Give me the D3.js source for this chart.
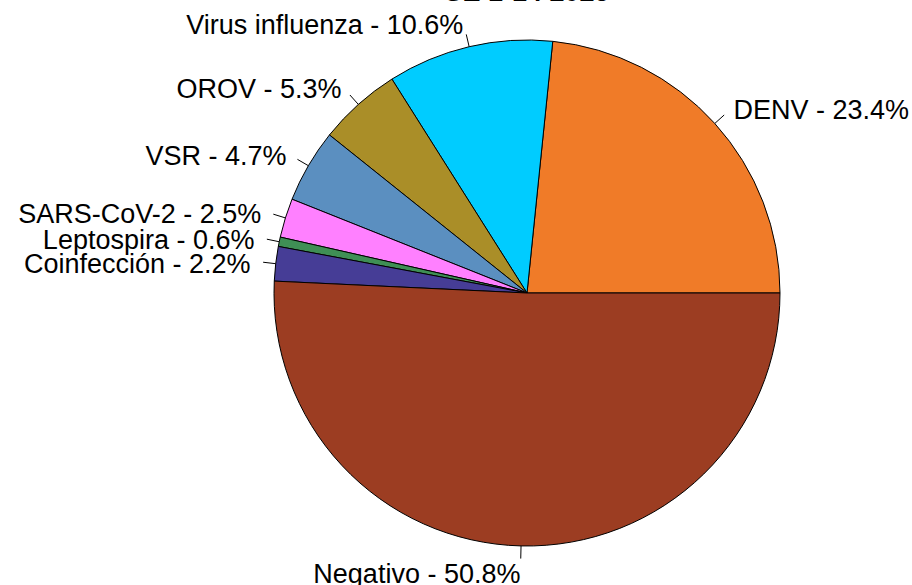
<!DOCTYPE html>
<html>
<head>
<meta charset="utf-8">
<script src="https://cdn.jsdelivr.net/npm/d3@7"></script>
<style>
  body { margin: 0; background: #fff; }
  svg { display: block; font-family: "Liberation Sans", Arial, sans-serif; }
</style>
</head>
<body>
<div id="chart"></div>
<script>
// datos
var categorias = ['DENV', 'Virus influenza', 'OROV', 'VSR', 'SARS-CoV-2', 'Leptospira', 'Coinfección', 'Negativo'];
var porcentajes = [23.4, 10.6, 5.3, 4.7, 2.5, 0.6, 2.2, 50.8];
var colores = ['#F07B28', '#00CCFF', '#AA8E28', '#5B8FC0', '#FF80FF', '#3F8F55', '#463D96', '#9C3D22'];
var titulo = 'SE 1-14 2025';

var WIDTH = 912, HEIGHT = 585;
var cx = 527, cy = 293, R = 253;

var svg = d3.select('#chart').append('svg')
    .attr('width', WIDTH)
    .attr('height', HEIGHT);

// titulo (cortado arriba como en la imagen)
svg.append('text')
    .attr('x', cx)
    .attr('y', 1)
    .attr('text-anchor', 'middle')
    .attr('font-size', 27)
    .attr('font-weight', 'bold')
    .text(titulo);

//pie antihorario desde las 3, como R
var pie = d3.pie()
    .sort(null)
    .value(d => d)
    .startAngle(Math.PI / 2)
    .endAngle(Math.PI / 2 - 2 * Math.PI);

var arc = d3.arc().innerRadius(0).outerRadius(R);
var arcs = pie(porcentajes);

var g = svg.append('g').attr('transform', 'translate(' + cx + ',' + cy + ')');

g.selectAll('path.slice')
    .data(arcs)
    .enter()
    .append('path')
    .attr('class', 'slice')
    .attr('d', arc)
    .attr('fill', (d, i) => colores[i])
    .attr('stroke', '#000')
    .attr('stroke-width', 1);

function pos(d, k) {
    var m = (d.startAngle + d.endAngle) / 2;
    return [k * R * Math.sin(m), -k * R * Math.cos(m)];
}

g.selectAll('line.tick')
    .data(arcs)
    .enter()
    .append('line')
    .attr('x1', d => pos(d, 1)[0])
    .attr('y1', d => pos(d, 1)[1])
    .attr('x2', d => pos(d, 1.05)[0])
    .attr('y2', d => pos(d, 1.05)[1])
    .attr('stroke', '#000')
    .attr('stroke-width', 1);

g.selectAll('text.lbl')
    .data(arcs)
    .enter()
    .append('text')
    .attr('class', 'lbl')
    .attr('x', d => pos(d, 1.1)[0])
    .attr('y', d => pos(d, 1.1)[1])
    .attr('dy', '0.45em')
    .attr('text-anchor', d => pos(d, 1)[0] < 0 ? 'end' : 'start')
    .attr('font-size', 27)
    .text((d, i) => categorias[i] + ' - ' + porcentajes[i].toFixed(1) + '%');
</script>
</body>
</html>
